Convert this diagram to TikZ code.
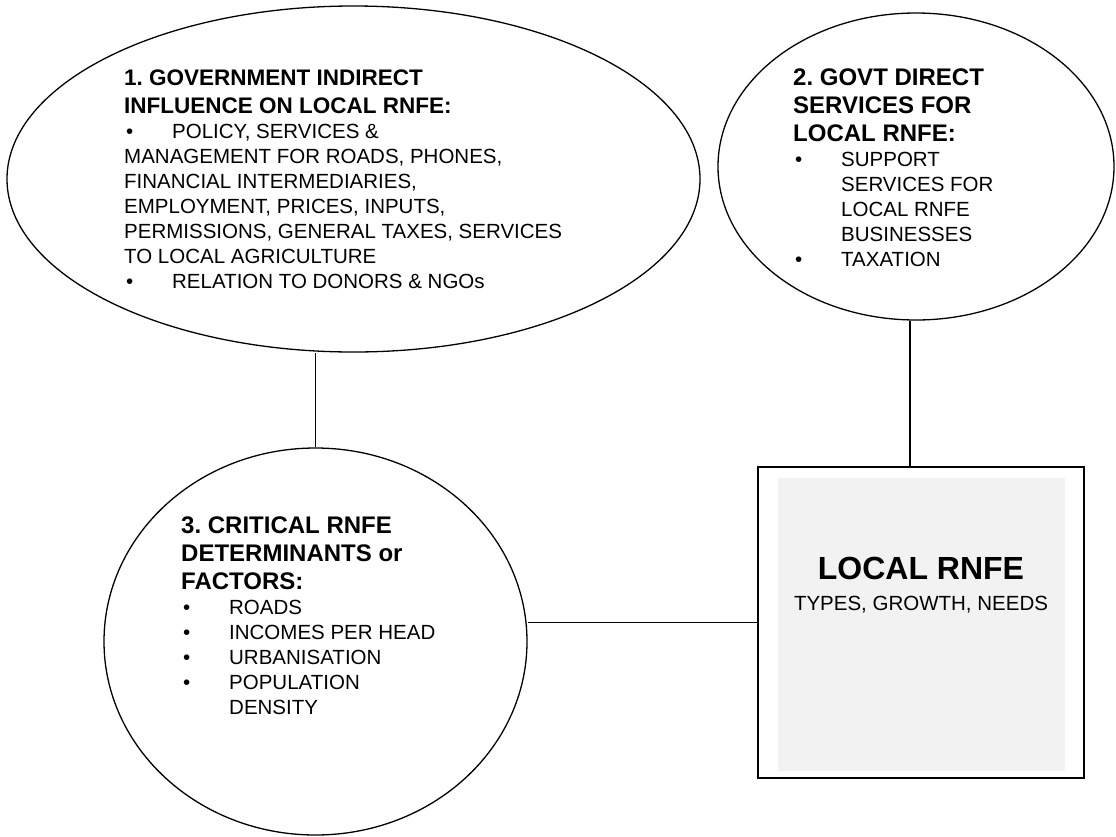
\documentclass[tikz,border=0pt]{standalone}
\usepackage{fontspec}
\setmainfont{Liberation Sans}
\usetikzlibrary{shapes}
\definecolor{rnfegray}{HTML}{F2F2F2}
\tikzstyle{bubble}=[draw, ellipse, line width=1.3pt, inner sep=0pt]
\tikzstyle{txt}=[anchor=base west, inner sep=0pt, align=left]
\tikzstyle{connector}=[draw, line width=1.3pt]
\newcommand{\fixsp}{\spaceskip=.278em\xspaceskip=.278em}
\newcommand{\hdr}{\fontsize{24}{28}\selectfont\bfseries\fixsp}
\newcommand{\hdrsmall}{\fontsize{22.5}{28}\selectfont\bfseries\fixsp}
\newcommand{\bdy}{\fontsize{20.5}{25}\selectfont\fixsp}
\newcommand{\bul}{\makebox[48pt][l]{\hspace{2pt}•}}
\newcommand{\ind}{\hspace*{48pt}}

\begin{document}
\begin{tikzpicture}[x=1pt,y=-1pt]
\useasboundingbox (0,0) rectangle (1116,836);

\node [bubble, minimum width=693pt, minimum height=346pt] (govind) at (353.5,179) {};
\node [bubble, minimum width=396pt, minimum height=307pt] (govdirect) at (916,166.5) {};
\node [bubble, minimum width=423pt, minimum height=387pt] (critical) at (315.5,641.5) {};
\node [draw, line width=1.3pt, minimum width=326pt, minimum height=311pt] (localrnfe) at (921,622.5) {};
\node [fill=rnfegray, minimum width=287pt, minimum height=293pt] (rnfefill) at (921.5,624.5) {};

\node [txt, text width=480pt] (govindtxt) at (124,85) {{\hdrsmall 1. GOVERNMENT INDIRECT\\INFLUENCE ON LOCAL RNFE:\par}{\bdy\bul POLICY, SERVICES \&\\MANAGEMENT FOR ROADS, PHONES,\\FINANCIAL INTERMEDIARIES,\\EMPLOYMENT, PRICES, INPUTS,\\PERMISSIONS, GENERAL TAXES, SERVICES\\TO LOCAL AGRICULTURE\\\bul RELATION TO DONORS \& NGOs\par}};
\node [txt, text width=300pt] (govdirecttxt) at (793,85.6) {{\hdr 2. GOVT DIRECT\\SERVICES FOR\\LOCAL RNFE:\par}{\bdy\bul SUPPORT\\\ind SERVICES FOR\\\ind LOCAL RNFE\\\ind BUSINESSES\\\bul TAXATION\par}};
\node [txt, text width=300pt] (criticaltxt) at (181,533.6) {{\hdr 3. CRITICAL RNFE\\DETERMINANTS or\\FACTORS:\par}{\bdy\bul ROADS\\\bul INCOMES PER HEAD\\\bul URBANISATION\\\bul POPULATION\\\ind DENSITY\par}};
\node [anchor=base, align=center, text width=300pt, inner sep=0pt] (rnfetxt) at ([yshift=43pt]localrnfe.center) {{\fontsize{32}{36}\selectfont\bfseries\fixsp LOCAL RNFE\par}{\fontsize{20.5}{30.5}\selectfont\fixsp TYPES, GROWTH, NEEDS\par}};

\draw [connector] (critical.north) -- (critical.north |- govind.south);
\draw [connector] ([xshift=-6pt]govdirect.south) -- ([xshift=-6pt]govdirect.south |- localrnfe.north);
\draw [connector] (localrnfe.west -| critical.east) -- (localrnfe.west);

\end{tikzpicture}
\end{document}
